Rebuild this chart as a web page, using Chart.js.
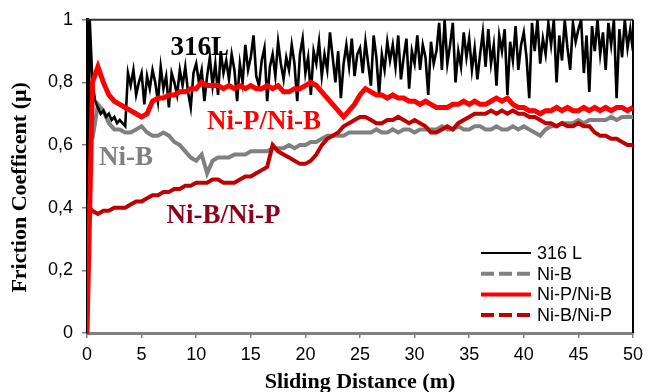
<!DOCTYPE html>
<html lang="en">
<head>
    <meta charset="UTF-8">
    <title>Friction Coefficient vs Sliding Distance</title>
    <script src="https://cdn.jsdelivr.net/npm/chart.js"></script>
    <style>
        body { margin: 0; background: #fff; }
    </style>
</head>
<body>
    <canvas id="frictionChart" width="649" height="392"></canvas>
    <script>
        // Friction coefficient readings, sampled every 0.25 m (316 L) and every 0.5 m (coatings)
        const seriesNames = ['316 L', 'Ni-B', 'Ni-P/Ni-B', 'Ni-B/Ni-P'];

        const mu316L = [
            0.00, 1.00, 0.80, 0.74,  0.72, 0.70, 0.71, 0.69,  0.70, 0.68, 0.69, 0.67,  0.68, 0.67, 0.66, 0.83,
            0.79, 0.84, 0.76, 0.80,  0.83, 0.73, 0.82, 0.78,  0.84, 0.80, 0.74, 0.85,  0.78, 0.82, 0.72, 0.83,
            0.80, 0.76, 0.84, 0.79,  0.85, 0.77, 0.72, 0.83,  0.86, 0.80, 0.84, 0.74,  0.82, 0.88, 0.79, 0.86,
            0.76, 0.90, 0.83, 0.87,  0.81, 0.89, 0.84, 0.74,  0.86, 0.80, 0.92, 0.84,  0.88, 0.95, 0.82, 0.79,
            0.87, 0.91, 0.74, 0.85,  0.89, 0.82, 0.93, 0.86,  0.81, 0.88, 0.84, 0.92,  0.86, 0.74, 0.89, 0.94,
            0.83, 0.88, 0.76, 0.90,  0.86, 0.93, 0.82, 0.89,  0.84, 0.96, 0.88, 0.80,  0.90, 0.75, 0.86, 0.92,
            0.85, 0.94, 0.82, 0.89,  0.91, 0.83, 0.93, 0.86,  0.79, 0.95, 0.88, 0.76,  0.89, 0.84, 0.93, 0.87,
            0.92, 0.85, 0.95, 0.81,  0.88, 0.94, 0.78, 0.90,  0.86, 0.95, 0.84, 0.92,  0.88, 0.76, 0.93, 0.86,
            0.90, 0.99, 0.84, 1.00,  0.86, 0.92, 0.99, 0.80,  0.90, 0.85, 0.96, 0.88,  0.94, 0.84, 0.91, 0.81,
            0.89, 0.96, 0.85, 0.97,  0.86, 0.92, 0.79, 0.95,  0.90, 0.97, 0.76, 0.93,  0.87, 0.98, 0.84, 0.92,
            0.96, 0.88, 0.75, 0.99,  0.90, 1.00, 0.86, 0.94,  0.89, 0.99, 0.92, 1.00,  0.80, 0.95, 0.87, 1.00,
            0.91, 0.84, 0.99, 0.93,  0.97, 1.00, 0.83, 0.95,  0.77, 0.98, 0.90, 1.00,  0.89, 0.96, 0.84, 0.99,
            0.92, 1.00, 0.75, 0.97,  0.88, 1.00, 0.91, 0.97,
            0.90
        ];

        const muNiB = [
            null, 0.62, 0.73, 0.71, 0.67, 0.65, 0.65, 0.64, 0.64, 0.65,
            0.66, 0.64, 0.63, 0.63, 0.64, 0.63, 0.61, 0.60, 0.58, 0.56,
            0.55, 0.57, 0.51, 0.55, 0.56, 0.56, 0.56, 0.57, 0.57, 0.57,
            0.58, 0.58, 0.58, 0.58, 0.59, 0.59, 0.59, 0.60, 0.59, 0.60,
            0.60, 0.61, 0.61, 0.62, 0.63, 0.63, 0.63, 0.63, 0.64, 0.64,
            0.64, 0.64, 0.64, 0.65, 0.64, 0.64, 0.65, 0.64, 0.65, 0.65,
            0.64, 0.65, 0.65, 0.65, 0.65, 0.66, 0.65, 0.65, 0.66, 0.65,
            0.65, 0.66, 0.66, 0.65, 0.65, 0.66, 0.65, 0.65, 0.66, 0.65,
            0.66, 0.65, 0.64, 0.63, 0.65, 0.66, 0.66, 0.67, 0.67, 0.67,
            0.68, 0.67, 0.68, 0.68, 0.68, 0.68, 0.69, 0.68, 0.69, 0.69,
            0.69
        ];

        const muNiPNiB = [
            0.00, 0.80, 0.85, 0.80, 0.76, 0.74, 0.73, 0.72, 0.71, 0.70,
            0.69, 0.70, 0.74, 0.75, 0.75, 0.76, 0.76, 0.77, 0.77, 0.78,
            0.78, 0.80, 0.79, 0.79, 0.79, 0.78, 0.79, 0.78, 0.79, 0.78,
            0.79, 0.78, 0.78, 0.79, 0.78, 0.79, 0.77, 0.77, 0.78, 0.78,
            0.79, 0.80, 0.79, 0.77, 0.75, 0.73, 0.71, 0.69, 0.71, 0.73,
            0.76, 0.78, 0.77, 0.76, 0.76, 0.75, 0.76, 0.75, 0.75, 0.74,
            0.74, 0.73, 0.74, 0.73, 0.72, 0.72, 0.72, 0.73, 0.73, 0.74,
            0.73, 0.74, 0.73, 0.73, 0.74, 0.75, 0.74, 0.75, 0.73, 0.72,
            0.72, 0.71, 0.71, 0.70, 0.71, 0.71, 0.72, 0.71, 0.72, 0.71,
            0.71, 0.72, 0.71, 0.72, 0.71, 0.72, 0.71, 0.72, 0.72, 0.71,
            0.72
        ];

        const muNiBNiP = [
            0.41, 0.39, 0.38, 0.39, 0.39, 0.40, 0.40, 0.40, 0.41, 0.42,
            0.42, 0.43, 0.44, 0.44, 0.45, 0.45, 0.46, 0.46, 0.47, 0.47,
            0.48, 0.48, 0.48, 0.49, 0.49, 0.48, 0.48, 0.48, 0.49, 0.50,
            0.50, 0.51, 0.52, 0.53, 0.60, 0.58, 0.57, 0.56, 0.55, 0.54,
            0.54, 0.55, 0.57, 0.60, 0.62, 0.63, 0.64, 0.66, 0.67, 0.68,
            0.69, 0.69, 0.68, 0.67, 0.67, 0.68, 0.68, 0.69, 0.68, 0.67,
            0.68, 0.67, 0.66, 0.64, 0.64, 0.65, 0.66, 0.65, 0.67, 0.68,
            0.69, 0.70, 0.70, 0.70, 0.71, 0.70, 0.71, 0.70, 0.71, 0.70,
            0.70, 0.69, 0.69, 0.68, 0.67, 0.67, 0.66, 0.67, 0.66, 0.66,
            0.67, 0.66, 0.66, 0.64, 0.63, 0.63, 0.62, 0.62, 0.61, 0.60,
            0.60
        ];

        // sampling grid of the recorder (m)
        const distFine = mu316L.map((_, i) => i * 0.25);
        const distCoarse = muNiB.map((_, i) => i * 0.5);

        const xTicks = [0, 5, 10, 15, 20, 25, 30, 35, 40, 45, 50];
        const yTicks = [0, 0.2, 0.4, 0.6, 0.8, 1];

        // text labels written on the plot (data coordinates: left edge, baseline)
        const plotLabels = [
            { text: '316L', x: 7.64, y: 0.888, color: '#000000' },
            { text: 'Ni-P/Ni-B', x: 11.0, y: 0.652, color: '#FF0000' },
            { text: 'Ni-B', x: 1.09, y: 0.537, color: '#808080' },
            { text: 'Ni-B/Ni-P', x: 7.27, y: 0.351, color: '#8B001C' }
        ];

        const toPoints = (xs, ys) => ys.map((v, i) => ({ x: xs[i], y: v }));

        const sansFont = "'Liberation Sans', Arial, sans-serif";
        const serifFont = "'Liberation Serif', 'Times New Roman', serif";

        // frame on top and right of the plot
        const framePlugin = {
            id: 'frame',
            beforeDatasetsDraw(chart) {
                const { ctx, chartArea: a } = chart;
                ctx.save();
                ctx.lineWidth = 2;
                ctx.strokeStyle = '#333';
                ctx.beginPath();
                ctx.moveTo(a.left, a.top);
                ctx.lineTo(a.right, a.top);
                ctx.stroke();
                ctx.strokeStyle = '#000';
                ctx.beginPath();
                ctx.moveTo(a.right, a.top);
                ctx.lineTo(a.right, a.bottom);
                ctx.stroke();
                ctx.restore();
            }
        };

        // labels + legend inside the plot
        const labelPlugin = {
            id: 'plotLabels',
            afterDatasetsDraw(chart) {
                const { ctx, chartArea: a, scales } = chart;
                ctx.save();
                ctx.font = 'bold 27px ' + serifFont;
                ctx.textBaseline = 'alphabetic';
                ctx.textAlign = 'left';
                plotLabels.forEach(l => {
                    ctx.fillStyle = l.color;
                    ctx.fillText(l.text, scales.x.getPixelForValue(l.x), scales.y.getPixelForValue(l.y));
                });

                // legend, bottom right
                const dashes = [[], [13, 5], [], [13, 5]];
                ctx.font = '18px ' + sansFont;
                ctx.textBaseline = 'middle';
                chart.data.datasets.forEach((ds, i) => {
                    const y = a.bottom - 80 + i * 20.7;
                    const x0 = a.right - 152;
                    ctx.strokeStyle = ds.borderColor;
                    ctx.lineWidth = i === 0 ? 2 : 4;
                    ctx.setLineDash(dashes[i]);
                    ctx.beginPath();
                    ctx.moveTo(x0, y);
                    ctx.lineTo(x0 + 50, y);
                    ctx.stroke();
                    ctx.setLineDash([]);
                    ctx.fillStyle = '#000';
                    ctx.fillText(ds.label, x0 + 56, y + 1);
                });
                ctx.restore();
            }
        };

        const ctx = document.getElementById('frictionChart').getContext('2d');
        new Chart(ctx, {
            type: 'line',
            data: {
                datasets: [
                    {
                        label: seriesNames[0],
                        data: toPoints(distFine, mu316L),
                        borderColor: '#000000',
                        borderWidth: 2.6,
                        order: 2
                    },
                    {
                        label: seriesNames[1],
                        data: toPoints(distCoarse, muNiB),
                        borderColor: '#808080',
                        borderWidth: 4,
                        order: 3
                    },
                    {
                        label: seriesNames[2],
                        data: toPoints(distCoarse, muNiPNiB),
                        borderColor: '#FF0000',
                        borderWidth: 5,
                        order: 0
                    },
                    {
                        label: seriesNames[3],
                        data: toPoints(distCoarse, muNiBNiP),
                        borderColor: '#C00000',
                        borderWidth: 4,
                        order: 1
                    }
                ]
            },
            options: {
                responsive: false,
                animation: false,
                events: [],
                elements: { point: { radius: 0 }, line: { tension: 0 } },
                layout: { padding: { top: 19, right: 14, left: 0, bottom: 0 } },
                plugins: {
                    legend: { display: false },
                    tooltip: { enabled: false }
                },
                scales: {
                    x: {
                        type: 'linear',
                        min: 0,
                        max: 50,
                        afterBuildTicks: s => { s.ticks = xTicks.map(v => ({ value: v })); },
                        afterFit: s => { s.height = 59; },
                        grid: { drawOnChartArea: false, tickLength: 5, color: '#808080', lineWidth: 1.5 },
                        border: { display: true, color: '#808080', width: 3 },
                        ticks: { color: '#000', padding: 6, maxRotation: 0, font: { size: 18, family: sansFont } },
                        title: {
                            display: true,
                            text: 'Sliding Distance (m)',
                            color: '#000',
                            padding: 0,
                            font: { size: 22, weight: 'bold', family: serifFont, lineHeight: 0.9 }
                        }
                    },
                    y: {
                        min: 0,
                        max: 1,
                        afterBuildTicks: s => { s.ticks = yTicks.map(v => ({ value: v })); },
                        afterFit: s => { s.width = 87; },
                        grid: { drawOnChartArea: false, tickLength: 5, color: '#808080', lineWidth: 1.5 },
                        border: { display: true, color: '#000', width: 3 },
                        ticks: {
                            color: '#000',
                            padding: 9,
                            font: { size: 18, family: sansFont },
                            callback: v => String(Math.round(v * 10) / 10).replace('.', ',')
                        },
                        title: {
                            display: true,
                            text: 'Friction Coefficent (\u03bc)\u00a0\u00a0\u00a0\u00a0',
                            color: '#000',
                            padding: { top: 10, bottom: 0 },
                            font: { size: 22, weight: 'bold', family: serifFont, lineHeight: 0.9 }
                        }
                    }
                }
            },
            plugins: [framePlugin, labelPlugin]
        });
    </script>
</body>
</html>
